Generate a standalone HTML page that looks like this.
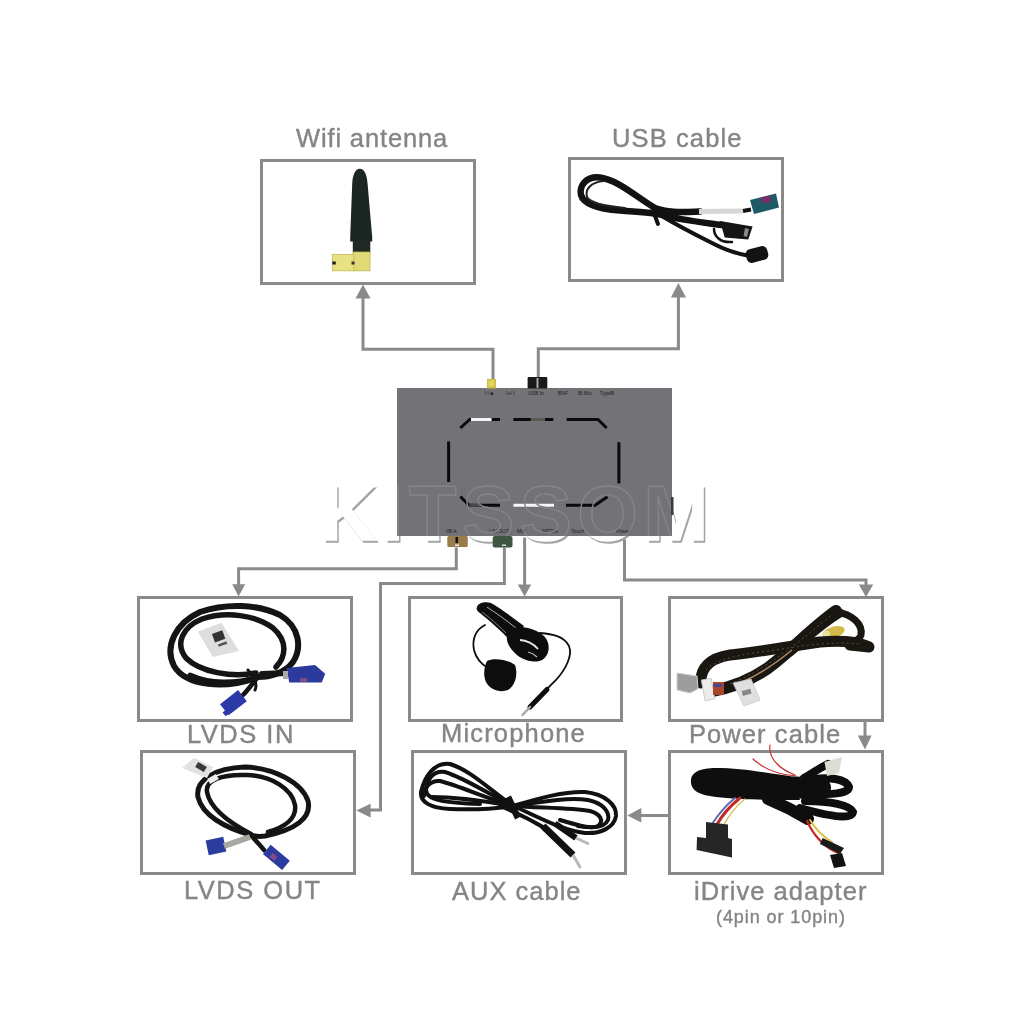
<!DOCTYPE html>
<html><head><meta charset="utf-8">
<style>
html,body{margin:0;padding:0;background:#fff;width:1024px;height:1024px;overflow:hidden;position:relative}
.bx{position:absolute;box-sizing:border-box;border:3px solid #8a8a8a;background:#fff}
.lb{position:absolute;will-change:transform;font-family:"Liberation Sans",sans-serif;font-size:25.5px;line-height:25.5px;color:#858585;white-space:nowrap;-webkit-text-stroke:0.4px #858585}
svg{position:absolute;left:0;top:0}
</style></head><body>
<!-- boxes -->
<div class="bx" style="left:260px;top:159px;width:216px;height:126px"></div>
<div class="bx" style="left:568px;top:157px;width:216px;height:125px"></div>
<div class="bx" style="left:137px;top:596px;width:216px;height:126px"></div>
<div class="bx" style="left:408px;top:596px;width:215px;height:126px"></div>
<div class="bx" style="left:668px;top:596px;width:216px;height:126px"></div>
<div class="bx" style="left:140px;top:750px;width:216px;height:125px"></div>
<div class="bx" style="left:411px;top:750px;width:216px;height:125px"></div>
<div class="bx" style="left:668px;top:750px;width:216px;height:125px"></div>

<!-- labels -->
<div class="lb" style="left:296px;top:126px;letter-spacing:0.86px">Wifi antenna</div>
<div class="lb" style="left:612px;top:126px;letter-spacing:1.12px">USB cable</div>
<div class="lb" style="left:187px;top:722px;letter-spacing:1.5px">LVDS IN</div>
<div class="lb" style="left:440.5px;top:721px;letter-spacing:1.17px">Microphone</div>
<div class="lb" style="left:688.8px;top:722px;letter-spacing:1.08px">Power cable</div>
<div class="lb" style="left:183.6px;top:878px;letter-spacing:1.5px">LVDS OUT</div>
<div class="lb" style="left:452.2px;top:879px;letter-spacing:1px">AUX cable</div>
<div class="lb" style="left:694px;top:879px;letter-spacing:1.05px">iDrive adapter</div>
<div class="lb" style="left:716px;top:908px;font-size:18px;line-height:18px;letter-spacing:0.92px">(4pin or 10pin)</div>

<!-- lines & arrows -->
<svg width="1024" height="1024" viewBox="0 0 1024 1024">
<g fill="none" stroke="#8a8a8a" stroke-width="3" stroke-linejoin="miter" stroke-linecap="square">
<polyline points="363,298 363,349.3 493,349.3 493,379"/>
<polyline points="538.3,377 538.3,348.7 678.4,348.7 678.4,297"/>
<polyline points="456.3,549 456.3,568.7 238.6,568.7 238.6,584"/>
<polyline points="504.4,549 504.4,583.5 380.5,583.5 380.5,810 370,810"/>
<polyline points="524.6,539 524.6,584.5"/>
<polyline points="624.5,541 624.5,580 866,580 866,584"/>
<polyline points="865,723 865,736"/>
<polyline points="668,815.5 641,815.5"/>
</g>
<g fill="#8a8a8a">
<polygon points="363,284.5 355.5,298.5 370.5,298.5"/>
<polygon points="678.4,283 671,297.6 686,297.6"/>
<polygon points="238.6,596.5 232.2,584.2 245.2,584.2"/>
<polygon points="524.6,596.5 517.8,584.5 531.2,584.5"/>
<polygon points="866,597 858.8,584.4 873.2,584.4"/>
<polygon points="865,749.5 857.8,735.6 871.6,735.6"/>
<polygon points="356.3,810.5 370.6,803.8 370.6,817.5"/>
<polygon points="627.3,815.5 641.3,808 641.3,822.5"/>
</g>
</svg>

<!-- central unit -->
<svg width="1024" height="1024" viewBox="0 0 1024 1024">
<rect x="397" y="388" width="275" height="148" fill="#737276"/>

<!-- dashed octagon -->
<g fill="none" stroke="#0a0a0a" stroke-width="3" stroke-linecap="butt">
<polyline points="460.3,428 469.7,419.5 491.5,419.5"/>
<line x1="491.5" y1="419.5" x2="500" y2="419.5"/>
<line x1="513.4" y1="419.5" x2="553.3" y2="419.5"/>
<polyline points="566.6,419.5 598,419.5 606.7,428"/>
<line x1="448.6" y1="441.4" x2="448.6" y2="482"/>
<line x1="618.9" y1="442.2" x2="618.9" y2="483.4"/>
<polyline points="460.4,496.5 469,505.3 500,505.3"/>
<polyline points="566,505.3 595,505.3 607.5,496.7"/>
</g>
<line x1="471" y1="419.5" x2="491.5" y2="419.5" stroke="#f4f4f4" stroke-width="3"/>
<line x1="530.6" y1="419.5" x2="545" y2="419.5" stroke="#5a5a55" stroke-width="3"/>
<line x1="469.5" y1="505.3" x2="480.7" y2="505.3" stroke="#4a4a48" stroke-width="3"/>
<line x1="513.4" y1="505.3" x2="554" y2="505.3" stroke="#f6f6f6" stroke-width="3"/>
<!-- tiny port labels -->
<g fill="#1a1a1a" font-family="Liberation Sans" font-size="5" opacity="0.95">
<text x="484.5" y="395">I I &#9632;</text>
<text x="506" y="395">I+I I</text>
<text x="528" y="395">USB In</text>
<text x="558" y="395">BNF</text>
<text x="578" y="395">BI Mic</text>
<text x="600" y="395">TypeB</text>
<text x="446" y="533">I/B  A</text>
<text x="489" y="533">LIN OUT</text>
<text x="517" y="533">Mic</text>
<text x="542" y="533">MEDIA</text>
<text x="571" y="533">Touch</text>
<text x="616" y="533">Power</text>
</g>
</svg>
<!-- watermark -->
<svg width="1024" height="1024" viewBox="0 0 1024 1024">
<defs>
<clipPath id="cout"><path d="M0,0 H1024 V1024 H0 Z M397,388 V536 H672 V388 Z" clip-rule="evenodd"/></clipPath>
<clipPath id="cin"><rect x="397" y="388" width="275" height="148"/></clipPath>
</defs>
<g font-family="Liberation Sans" font-weight="bold" font-size="78" letter-spacing="5.5">
<g clip-path="url(#cout)">
<text x="321.5" y="541.5" fill="#a4a4a4" stroke="#a4a4a4" stroke-width="1.5">KITSSOM</text>
<text x="320" y="540" fill="#fff" stroke="#fff" stroke-width="1.5">KITSSOM</text>
</g>
<g clip-path="url(#cin)">
<text x="320" y="540" fill="none" stroke="#858489" stroke-width="1.4">KITSSOM</text>
</g>
</g>
</svg>
<svg width="1024" height="1024" viewBox="0 0 1024 1024">
<!-- connectors -->
<rect x="487" y="379" width="9" height="9.5" fill="#cbbd45"/>
<rect x="488.5" y="380.5" width="6" height="6" fill="#e2d766"/>
<rect x="527.6" y="377" width="19.7" height="11.5" rx="1" fill="#1a1a1a"/>
<rect x="536.5" y="378" width="2" height="10" fill="#aaa"/>
<rect x="447.3" y="536" width="20.5" height="11" rx="1.5" fill="#9a7c4b"/>
<rect x="455.5" y="537" width="2.5" height="6" fill="#111"/>
<rect x="455" y="544.5" width="4" height="1.5" fill="#eee"/>
<rect x="492.7" y="536" width="19.8" height="11.5" rx="2" fill="#3c5640"/>
<rect x="502" y="544.5" width="4" height="1.5" fill="#ddd"/>
<rect x="671" y="497" width="2.5" height="18" fill="#3a3a3a"/>
</svg>

<!-- products -->
<svg width="1024" height="1024" viewBox="0 0 1024 1024">
<!-- wifi antenna -->
<g>
<path d="M359.8,168.8 C364.5,168.8 367,175 367.6,184 L372.2,237 L372.2,241.5 L350.2,241.5 L350.2,237 L352.2,184 C352.6,175 355.2,168.8 359.8,168.8 Z" fill="#1c2623"/>
<rect x="352.8" y="241" width="17.5" height="12" fill="#1f2a27"/>
<rect x="353.2" y="252" width="16.8" height="18.8" fill="#e2da76" stroke="#c2b352" stroke-width="0.8"/>
<rect x="332.3" y="254.4" width="21.5" height="16.4" fill="#e8e282" stroke="#c8bb5a" stroke-width="0.8"/>
<rect x="332.3" y="261.5" width="3.5" height="3" fill="#222"/>
<rect x="351.5" y="261.5" width="3" height="3" fill="#333"/>
</g>
<!-- usb cable -->
<g fill="none" stroke="#121212" stroke-linecap="round">
<path d="M700,211.5 C682,212 668,213 655,208 C635,196 618,180 600,177.5 C586,176 579,186 581,195 C584,205 600,209 620,210.5 C640,212 652,212 662,215 C680,220 700,222 722,225" stroke-width="6.5"/>
<path d="M604,181 C590,182 585,190 587,197 C590,203 605,206 625,208" stroke="#222" stroke-width="2"/>
<path d="M660,215 C675,224 692,233 712,243 C725,250 738,254 750,256" stroke-width="4"/>
<path d="M714,229 C714,236 720,243 732,242" stroke-width="2.5"/>
<path d="M655,216 L658,224" stroke-width="4"/>
</g>
<path d="M699,211.6 L743,211" stroke="#d6d6d6" stroke-width="5"/>
<path d="M743,211 L751,209.5" stroke="#111" stroke-width="4"/>
<polygon points="750,200 776,193.5 779,207.5 754,214" fill="#1f5a68"/>
<polygon points="761,197.5 770,195.5 771.5,201.5 762.5,203.5" fill="#7a2e68"/>
<polygon points="720,221 752.6,226.6 748.3,239.5 724.7,237.4" fill="#151515"/>
<polygon points="745,228 749,229 747,237 743.5,236" fill="#8a8a8a"/>
<rect x="746" y="247.5" width="22" height="14" rx="5" fill="#121212" transform="rotate(-15 757 254.5)"/>
</svg>

<!-- lower products -->
<svg width="1024" height="1024" viewBox="0 0 1024 1024">
<!-- LVDS IN -->
<g fill="none" stroke="#141414" stroke-linecap="round">
<path d="M258,677 C225,690 186,686 174,666 C164,646 176,623 200,612 C226,603 258,604 280,615 C300,627 302,648 293,662 C285,673 270,677 258,677" stroke-width="6"/>
<path d="M256,673 C232,678 200,672 186,658 C175,644 182,627 202,619 C226,611 256,615 273,628 C288,641 286,657 276,667" stroke-width="5.5"/>
<path d="M190,675 C210,684 235,684 258,677" stroke-width="5"/>
<path d="M262,674 L287,673" stroke-width="6"/>
<path d="M258,677 C252,684 248,690 243,695" stroke-width="4.5"/>
<path d="M248,670 C254,677 258,684 255,690" stroke-width="3"/>
</g>
<polygon points="197.8,631.6 221.5,622.8 239,651 212.7,657" fill="#dedede"/>
<rect x="213" y="632" width="11" height="9" fill="#333" transform="rotate(-20 218 636)"/>
<rect x="218" y="643" width="9" height="2.5" fill="#555" transform="rotate(-20 222 644)"/>
<polygon points="286.5,668 315,665 325.2,673.8 321.7,682.6 289.2,682.6" fill="#2b3a9c"/>
<rect x="283" y="671" width="5" height="8" fill="#aaa"/>
<rect x="300" y="678" width="7" height="4" fill="#7a4a8a"/>
<g transform="rotate(-38 233 703)"><rect x="222" y="696" width="23" height="14" fill="#2b3aa6"/><rect x="219" y="704" width="6" height="5" fill="#2b3aa6"/></g>

<!-- Microphone -->
<path d="M477,607 C478,603 485,601 491,603 C500,608 512,617 524,626 L512,642 C502,632 490,621 480,613 C477,611 476,609 477,607 Z" fill="#0d0d0d"/>
<path d="M487,607 C496,613 506,620 516,628" stroke="#d8d8d8" stroke-width="0.8" fill="none"/>
<path d="M482,612 C490,618 498,625 506,633" stroke="#c8c8c8" stroke-width="0.6" fill="none"/>
<path d="M510,630 C518,624 535,628 544,636 C551,643 550,655 542,660 C533,664 520,660 512,650 C506,643 505,635 510,630 Z" fill="#0d0d0d"/>
<path d="M520,640 C526,640 534,644 538,649" stroke="#e6e6e6" stroke-width="1.8" fill="none"/>
<path d="M528,652 C532,653 535,655 537,657" stroke="#bdbdbd" stroke-width="1.2" fill="none"/>
<g fill="none" stroke="#0d0d0d" stroke-linecap="round">
<path d="M485,625 C475,630 472,640 474,650 C476,658 481,664 488,668" stroke-width="1.8"/>
<path d="M540,633 C552,634 564,636 569,646 C573,656 565,670 556,680 C552,684 550,686 547,689" stroke-width="1.8"/>
<path d="M547,689.5 L530,707" stroke-width="5"/>
<path d="M530,707 L522.5,715" stroke="#a8a8a8" stroke-width="2.5"/>
</g>
<path d="M487,661 C494,657 509,660 515,665 C518,673 516,685 508,690 C500,693 490,690 486,682 C483,675 484,667 487,661 Z" fill="#0d0d0d"/>

<!-- Power cable -->
<ellipse cx="834" cy="632" rx="11" ry="5.5" fill="#d2bb48" transform="rotate(-15 834 632)"/>
<ellipse cx="826" cy="634" rx="4" ry="3" fill="#e8e0a0" transform="rotate(-15 826 634)"/>
<g fill="none" stroke="#1a1612" stroke-linecap="round">
<path d="M701,683 C700,668 710,658 730,655 C760,652 790,646 820,642 C845,640 860,643 867,646" stroke-width="11"/>
<path d="M712,691 C735,687 752,679 768,668 C792,650 812,628 836,611" stroke-width="12"/>
<path d="M790,652 C805,640 820,625 840,613" stroke-width="9"/>
<path d="M836,612 C852,614 863,624 861,635 C859,641 850,643 843,642" stroke-width="7"/>
<path d="M850,645 L869,647" stroke-width="11"/>
</g>
<g fill="none" stroke="#7a6650" stroke-width="1" opacity="0.7" stroke-dasharray="2 3">
<path d="M706,670 C715,660 740,654 770,651 C800,646 830,641 860,644"/>
<path d="M730,684 C760,672 790,650 830,616"/>
</g>
<path d="M742,682 C758,675 775,664 792,650" stroke="#b08a60" stroke-width="1.5" fill="none"/>
<polygon points="677,673 697,676 698,689 690,693 677,690" fill="#9d9d9d" stroke="#d0d0d0" stroke-width="1"/>
<rect x="703" y="679" width="10" height="21" fill="#ececec" stroke="#c8c8c8" stroke-width="0.8" transform="rotate(-10 708 689)"/>
<rect x="713" y="682" width="11" height="13" fill="#a8452a"/>
<rect x="714" y="684" width="8" height="3" fill="#3a4a9a"/>
<polygon points="733,683 751,679 760,700 744,706" fill="#e0e0e0" stroke="#c8c8c8" stroke-width="0.8"/>
<rect x="742" y="690" width="9" height="5" fill="#888" transform="rotate(-15 746 692)"/>

<!-- LVDS OUT -->
<g fill="none" stroke="#141414" stroke-linecap="round">
<path d="M251,835 C225,828 202,815 198,797 C195,780 215,768 245,767 C275,768 302,783 308,801 C312,818 295,830 265,836 C258,837 254,836 251,835" stroke-width="5"/>
<path d="M251,834 C228,822 210,808 207,792 C205,780 222,774 247,775 C272,776 292,789 295,805 C297,818 285,827 268,832" stroke-width="4.5"/>
<path d="M251,835 C255,840 258,843 264,850" stroke-width="4.5"/>
</g>
<polygon points="182,768 194,758 213,767 207,778" fill="#e2e2e2"/>
<rect x="196" y="764" width="10" height="6" fill="#3a3a3a" transform="rotate(30 201 767)"/>
<rect x="208" y="776" width="10" height="6" fill="#ececec" transform="rotate(-30 213 779)"/>
<g transform="rotate(-12 216 846)"><rect x="207" y="838.5" width="18" height="15" fill="#2c3c9e"/></g>
<path d="M224,846 L250,837" stroke="#a8a8a0" stroke-width="6"/>
<g transform="rotate(40 276 857)"><rect x="264" y="851" width="25" height="12" fill="#2c3c9e"/><rect x="271" y="856" width="6" height="5" fill="#8a4a8a"/></g>

<!-- AUX cable -->
<g fill="none" stroke="#111" stroke-linecap="round" stroke-width="4">
<path d="M513,806 C490,790 470,770 450,764 C435,762 425,775 421,792 C420,802 430,808 450,809 C475,810 500,808 513,806"/>
<path d="M513,806 C490,795 465,778 445,772 C433,770 427,780 426,790 C426,800 445,803 480,804"/>
<path d="M513,806 C485,798 460,786 440,781 C430,780 424,788 424,796"/>
<path d="M513,806 C490,802 460,797 432,797"/>
<path d="M513,806 C540,798 565,791 585,792 C605,794 617,805 616,816 C614,828 600,834 585,833 C560,830 535,815 513,806"/>
<path d="M513,806 C540,802 568,797 588,800 C603,803 610,812 608,820 C605,827 595,829 578,826"/>
<path d="M513,806 C545,808 572,808 590,811 C601,814 604,821 598,826 C592,829 580,826 560,820"/>
<path d="M500,806 C520,814 535,822 548,830"/>
</g>
<path d="M508,797 L518,818" stroke="#111" stroke-width="6.5"/>
<path d="M543,826 L573,855" stroke="#111" stroke-width="7"/>
<path d="M573,855 L580.5,868" stroke="#b8b8b8" stroke-width="3"/>
<path d="M555,823.5 L576,838" stroke="#111" stroke-width="6"/>
<path d="M576,838 L589,844" stroke="#b8b8b8" stroke-width="3"/>

<!-- iDrive adapter -->
<g fill="#0e0e0e">
<path d="M691,783 C690,772 700,768 716,768 C740,768 760,772 790,776 L800,800 C780,800 740,800 716,797 C698,795 692,790 691,783 Z"/>
</g>
<g fill="none" stroke="#0e0e0e" stroke-linecap="round">
<path d="M760,786 C780,787 800,788 820,788" stroke-width="22"/>
<path d="M806,780 C830,776 846,779 849,787 C849,794 830,795 808,793" stroke-width="8"/>
<path d="M805,801 C830,801 850,805 853,812 C852,819 835,818 800,808" stroke-width="8"/>
<path d="M768,799 C785,806 798,813 808,819" stroke-width="12"/>
<path d="M804,778 C814,772 820,768 828,764" stroke-width="8"/>
</g>
<g fill="none" stroke-linecap="round">
<path d="M740,798 C730,806 722,815 716,826" stroke="#c42828" stroke-width="3"/>
<path d="M735,798 C725,806 718,815 712,824" stroke="#5a6ab0" stroke-width="2"/>
<path d="M745,799 C736,806 729,815 723,826" stroke="#d8c060" stroke-width="1.5"/>
<path d="M807,821 C812,832 820,845 838,853" stroke="#c42828" stroke-width="2.2"/>
<path d="M810,820 C816,830 822,836 832,842" stroke="#d8c040" stroke-width="2"/>
<path d="M753,759 C765,770 780,775 796,776" stroke="#c83030" stroke-width="1.2"/>
<path d="M770,745 C768,760 782,770 795,775" stroke="#c83030" stroke-width="1.2"/>
</g>
<polygon points="706,822 728,824.5 728,838 732,839 732,857.5 696.6,850 697,837 706,838" fill="#262626"/>
<polygon points="822.6,838 844,848 840,854 820,844" fill="#1a1a1a"/>
<polygon points="830,855 842,853 846,866 834,868" fill="#111"/>
<polygon points="824.5,762 842,757 839,773 827,776" fill="#dcdcd4"/>
</svg>
</body></html>
